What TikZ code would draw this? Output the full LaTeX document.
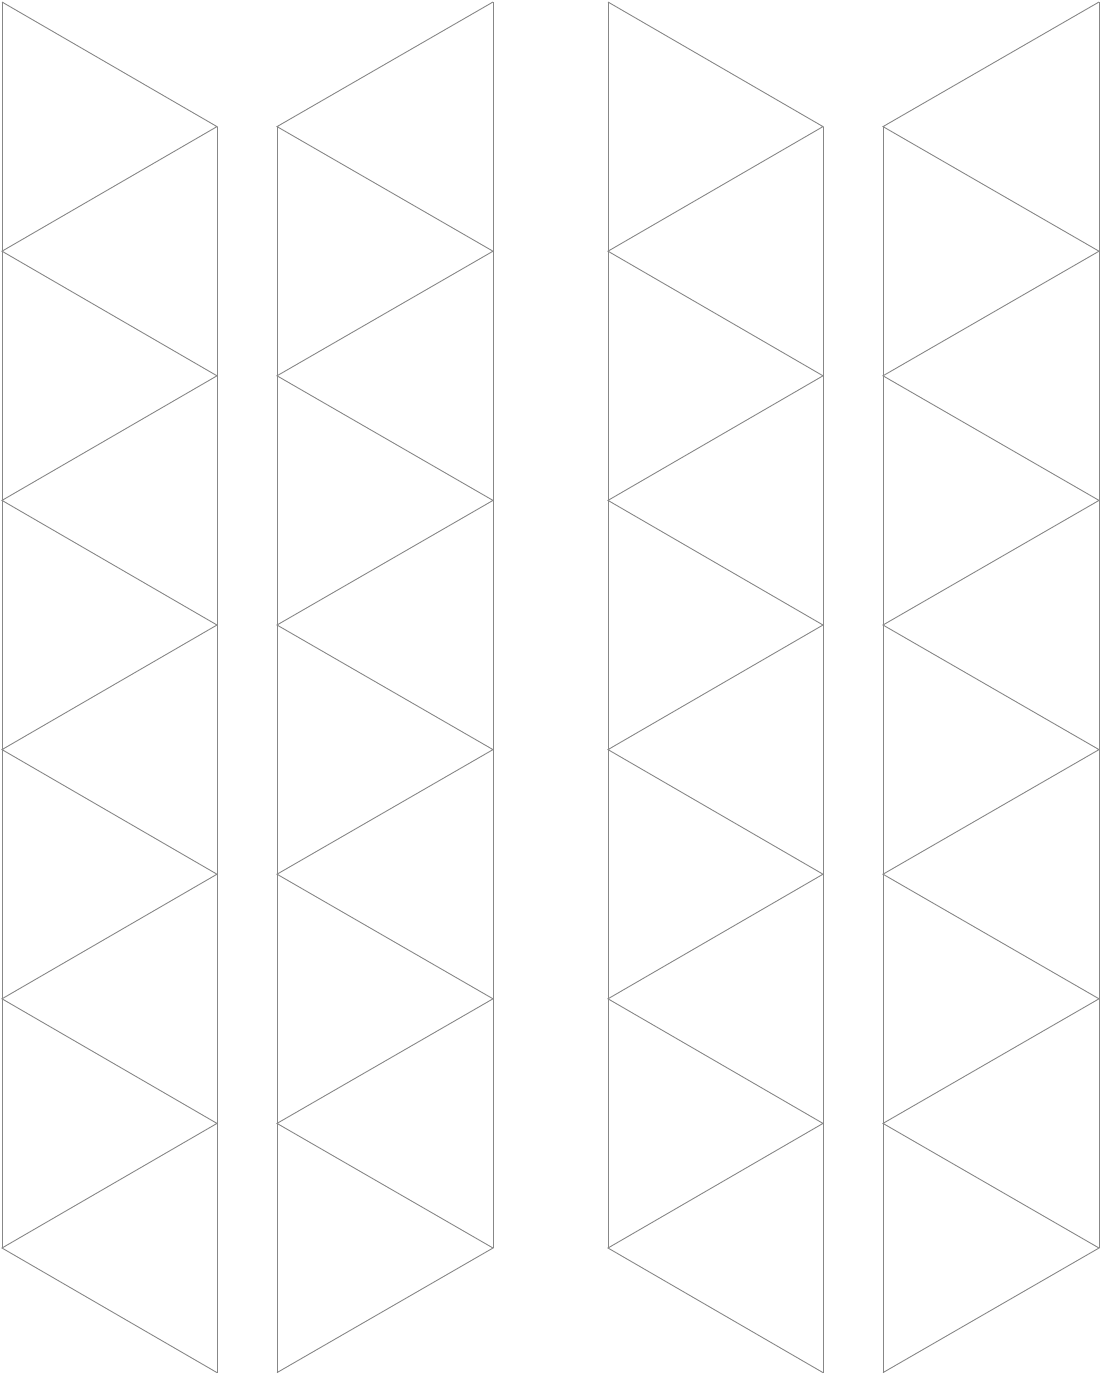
\documentclass[tikz,border=0pt]{standalone}
\begin{document}
\begin{tikzpicture}[x=1pt,y=-1pt,
  edge/.style={draw=black!47,line width=0.9pt,line join=miter}]
\useasboundingbox (0,0) rectangle (1101,1374);
\def\dd{249.2}
% strips: left x, right x, type (0 = zigzag starts on left, 1 = starts on right)
\foreach \xl/\xr/\t in {2/217/0, 277/493/1, 608/823/0, 883/1099/1}{
  \ifnum\t=0
    \def\xa{\xl}\def\xb{\xr}
  \else
    \def\xa{\xr}\def\xb{\xl}
  \fi
  % long edges
  \draw[edge] (\xa,2) -- (\xa,{2+5*\dd});
  \draw[edge] (\xb,{2+0.5*\dd}) -- (\xb,{2+5.5*\dd});
  % zigzag
  \draw[edge] (\xa,2)
    \foreach \i in {0,...,4}{ -- (\xb,{2+(\i+0.5)*\dd}) -- (\xa,{2+(\i+1)*\dd}) }
    -- (\xb,{2+5.5*\dd});
}
\end{tikzpicture}
\end{document}
